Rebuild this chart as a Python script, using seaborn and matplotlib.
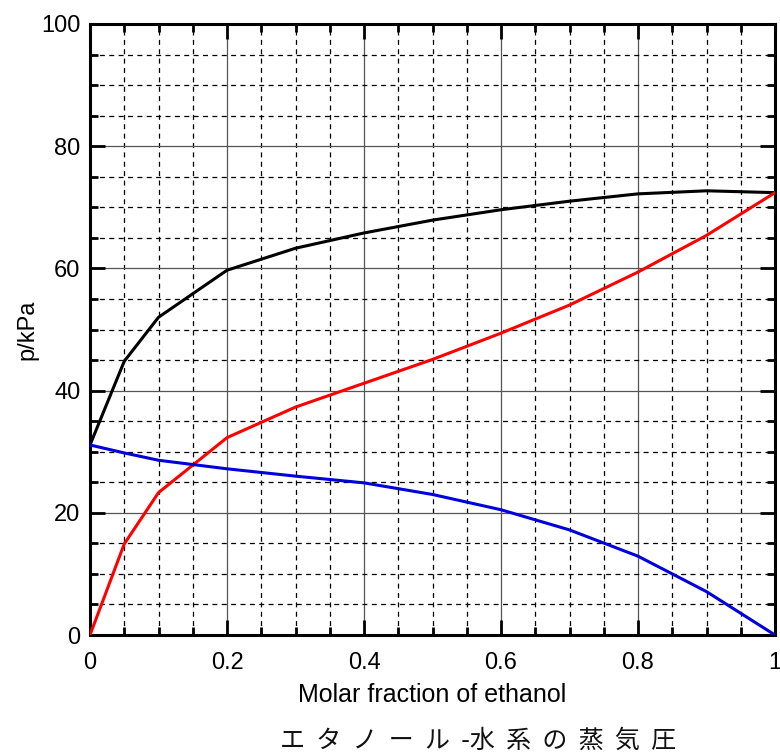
import numpy as np
import pandas as pd
import matplotlib
matplotlib.use("Agg")
import matplotlib.pyplot as plt
from matplotlib.ticker import MultipleLocator, FormatStrFormatter
import seaborn as sns

# mole fraction of ethanol and partial / total vapour pressures (kPa)
x_ethanol = [0.0, 0.05, 0.1, 0.2, 0.3, 0.4, 0.5, 0.6, 0.7, 0.8, 0.9, 1.0]
p_total = [31.1, 44.8, 52.0, 59.7, 63.3, 65.8, 67.9, 69.6, 71.0, 72.2, 72.7, 72.4]
p_ethanol = [0.0, 14.9, 23.3, 32.3, 37.3, 41.2, 45.1, 49.4, 54.0, 59.4, 65.4, 72.4]
p_water = [31.1, 29.8, 28.6, 27.2, 26.0, 24.9, 23.0, 20.5, 17.2, 12.9, 7.1, 0.0]

df = pd.DataFrame({
    'x': x_ethanol * 3,
    'p': p_total + p_ethanol + p_water,
    'series': ['total'] * 12 + ['ethanol'] * 12 + ['water'] * 12,
})

sns.set_style("white")
plt.rcParams['font.family'] = ['Liberation Sans', 'DejaVu Sans']
for k in ['text.color', 'axes.labelcolor', 'xtick.color', 'ytick.color']:
    plt.rcParams[k] = 'black'

fig = plt.figure(figsize=(7.8, 7.54), dpi=100)
ax = fig.add_axes([90 / 780, 1 - 635 / 754, 685 / 780, 611 / 754])

sns.lineplot(data=df, x='x', y='p', hue='series',
             palette={'total': 'black', 'ethanol': '#ff0000', 'water': '#0000dd'},
             linewidth=2.2, legend=False, ax=ax, zorder=5)

ax.set_xlim(0, 1)
ax.set_ylim(0, 100)
ax.xaxis.set_major_locator(MultipleLocator(0.2))
ax.xaxis.set_minor_locator(MultipleLocator(0.05))
ax.yaxis.set_major_locator(MultipleLocator(20))
ax.yaxis.set_minor_locator(MultipleLocator(5))
ax.xaxis.set_major_formatter(FormatStrFormatter('%g'))
ax.yaxis.set_major_formatter(FormatStrFormatter('%g'))

ax.grid(which='major', color='#555555', linestyle='-', linewidth=0.9)
ax.grid(which='minor', color='black', linestyle=(0, (4, 3.5)), linewidth=0.9)

ax.tick_params(which='both', direction='in', top=True, right=True,
               bottom=True, left=True, color='black')
ax.tick_params(which='major', length=11, width=2, labelsize=17)
ax.tick_params(which='minor', length=6, width=2)
ax.tick_params(axis='x', which='major', pad=12)
ax.tick_params(axis='y', which='major', pad=7)

for s in ax.spines.values():
    s.set_visible(True)
    s.set_color('black')
    s.set_linewidth(2.2)

ax.set_xlabel('Molar fraction of ethanol', fontsize=18, labelpad=7)
ax.set_ylabel('p/kPa', fontsize=17, va='center')
ax.yaxis.set_label_coords(-0.092, 0.5)

fig.text(0.613, 0.018, 'エ  タ  ノ  ー  ル  -水  系  の  蒸  気  圧',
         ha='center', va='center', fontsize=18,
         family=['Noto Sans CJK JP', 'DejaVu Sans'], color='#111111')

fig.savefig('out.png', dpi=100)
